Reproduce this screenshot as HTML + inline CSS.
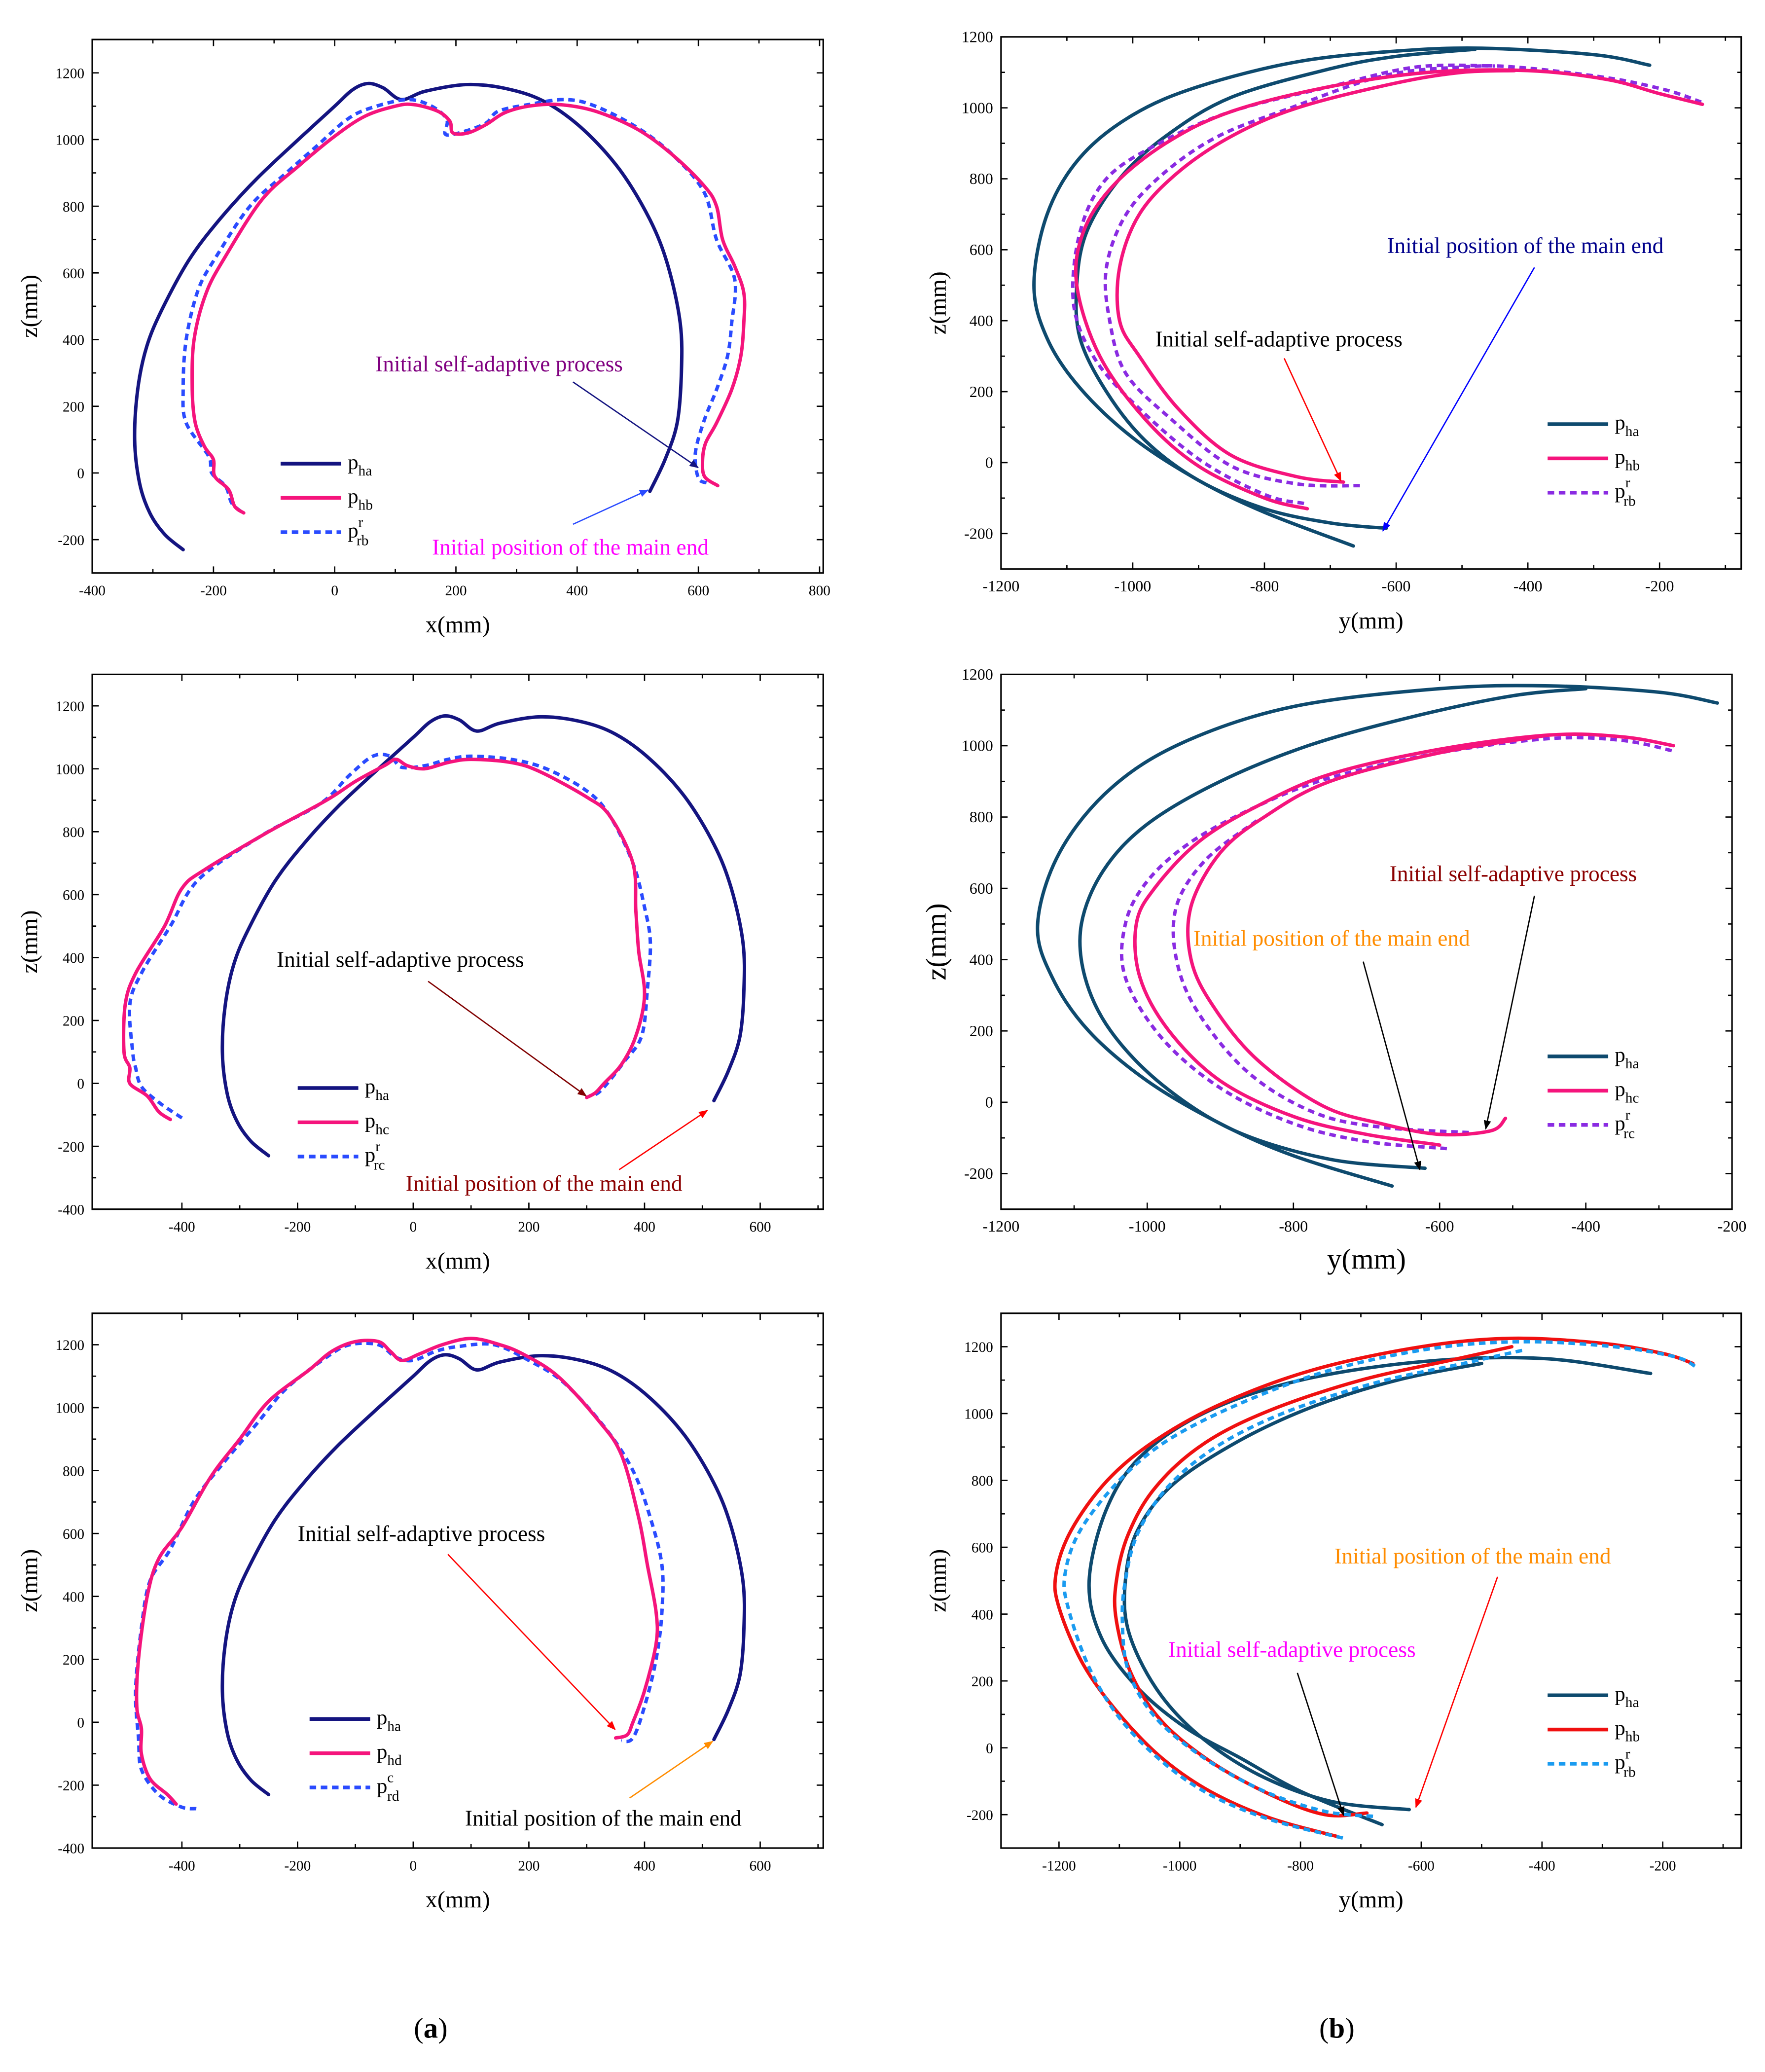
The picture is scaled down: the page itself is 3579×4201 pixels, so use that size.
<!DOCTYPE html>
<html><head><meta charset="utf-8"><style>
html,body{margin:0;padding:0;background:#fff;}
svg{display:block;font-family:"Liberation Serif",serif;}
</style></head><body>
<svg id="fig" xmlns="http://www.w3.org/2000/svg" width="3579" height="4201" viewBox="0 0 1340 1573"></svg>
<script>
// ---- data (data units) ----
const tl_pha=[[-250,-230],[-280,-185],[-305,-120],[-322,-30],[-330,100],[-325,250],[-310,380],[-285,490],[-240,640],[-190,760],[-130,880],[-60,1000],[0,1100],[30,1150],[55,1168],[80,1155],[110,1120],[150,1145],[220,1165],[290,1150],[350,1110],[410,1030],[470,910],[520,760],[550,620],[570,450],[572,300],[565,150],[545,40],[520,-55]];
const tl_phb=[[-150,-120],[-165,-100],[-175,-50],[-198,-10],[-200,40],[-215,80],[-230,150],[-235,250],[-232,400],[-212,540],[-180,650],[-120,820],[-60,920],[0,1010],[50,1070],[100,1100],[130,1105],[170,1085],[190,1055],[195,1020],[220,1020],[250,1045],[280,1080],[320,1100],[370,1105],[430,1085],[500,1030],[560,950],[610,860],[630,800],[640,700],[660,620],[675,540],[675,450],[670,350],[655,250],[630,150],[612,90],[607,40],[610,-10],[632,-38]];
const tl_prb=[[-155,-115],[-170,-90],[-180,-40],[-203,0],[-208,50],[-245,150],[-250,250],[-245,400],[-225,550],[-195,650],[-140,800],[-80,900],[-30,980],[20,1060],[60,1095],[120,1120],[160,1100],[185,1060],[183,1015],[215,1025],[250,1050],[270,1085],[320,1105],[380,1120],[430,1100],[500,1035],[560,950],[610,840],[630,700],[660,580],[655,450],[648,350],[630,250],[610,160],[595,60],[600,-15],[615,-30]];
const tr_pha_o=[[-215,1120],[-300,1150],[-470,1168],[-600,1160],[-750,1130],[-900,1060],[-1000,980],[-1080,860],[-1130,700],[-1150,500],[-1130,350],[-1080,210],[-1000,70],[-900,-50],[-800,-140],[-665,-235]];
const tr_pha_i=[[-615,-185],[-700,-170],[-800,-130],[-900,-50],[-980,60],[-1040,200],[-1080,350],[-1085,500],[-1070,650],[-1020,800],[-950,920],[-850,1030],[-700,1110],[-600,1145],[-480,1165]];
const tr_phb_o=[[-735,-130],[-800,-100],[-900,-10],[-980,120],[-1050,300],[-1085,500],[-1075,650],[-1030,780],[-950,900],[-850,990],[-700,1060],[-550,1100],[-400,1105],[-280,1080],[-200,1040],[-135,1010]];
const tr_phb_i=[[-680,-55],[-750,-40],[-850,20],[-930,150],[-990,300],[-1020,400],[-1020,550],[-990,700],[-930,820],[-850,920],[-750,1000],[-600,1070],[-500,1100],[-420,1105]];
const tr_prb_i=[[-655,-65],[-750,-60],[-850,-10],[-940,120],[-1010,250],[-1035,400],[-1040,550],[-1010,700],[-950,820],[-870,920],[-760,1000],[-620,1090],[-500,1115],[-420,1115],[-280,1085],[-190,1050],[-135,1015]];
const tr_prb_o=[[-740,-115],[-800,-90],[-900,10],[-1000,170],[-1060,300],[-1090,450],[-1080,650],[-1040,800],[-960,900],[-850,990],[-700,1060],[-570,1115],[-450,1118]];
const ml_phc=[[-420,-115],[-440,-90],[-460,-40],[-490,0],[-490,50],[-500,100],[-498,250],[-480,350],[-430,500],[-400,620],[-360,680],[-250,800],[-150,900],[-100,960],[-50,1010],[-30,1030],[-10,1010],[20,1000],[60,1020],[100,1030],[170,1020],[220,990],[300,910],[340,850],[380,700],[385,550],[390,420],[400,280],[385,150],[360,60],[330,0],[315,-30],[300,-45]];
const ml_prc=[[-400,-110],[-440,-60],[-470,-10],[-480,50],[-485,100],[-490,250],[-470,350],[-420,500],[-370,650],[-260,790],[-160,890],[-110,980],[-70,1040],[-40,1040],[-20,1005],[20,1010],[60,1030],[100,1040],[170,1030],[230,1000],[300,930],[340,850],[380,700],[400,560],[410,450],[405,300],[395,150],[365,70],[340,10],[320,-30],[305,-40]];
const mr_pha_o=[[-220,1120],[-300,1150],[-450,1168],[-600,1160],[-800,1110],[-950,1010],[-1050,880],[-1120,700],[-1150,500],[-1130,350],[-1080,200],[-1000,60],[-900,-60],[-800,-150],[-665,-235]];
const mr_pha_i=[[-620,-185],[-750,-160],[-880,-80],[-980,50],[-1050,200],[-1085,350],[-1090,500],[-1060,650],[-1000,780],[-900,900],[-780,1000],[-640,1080],[-500,1140],[-400,1160]];
const mr_phc_o=[[-600,-120],[-700,-90],[-800,-40],[-900,60],[-970,200],[-1010,350],[-1015,500],[-990,600],[-930,730],[-850,830],[-750,920],[-600,990],[-450,1030],[-350,1025],[-280,1000]];
const mr_phc_i=[[-510,-45],[-530,-80],[-600,-90],[-680,-60],[-760,-10],[-850,120],[-910,270],[-940,400],[-940,550],[-900,700],[-840,800],[-750,900],[-600,980],[-450,1030]];
const mr_prc_o=[[-590,-130],[-700,-110],[-800,-60],[-900,40],[-980,180],[-1030,350],[-1030,500],[-1000,620],[-940,730],[-850,830],[-750,910],[-600,980],[-450,1020],[-350,1015],[-280,985]];
const mr_prc_i=[[-560,-85],[-680,-70],[-770,-30],[-860,80],[-930,250],[-960,400],[-960,550],[-920,680],[-850,790]];
const bl_phd=[[-410,-260],[-425,-230],[-455,-180],[-470,-100],[-470,-20],[-478,50],[-475,200],[-460,400],[-440,520],[-400,620],[-350,780],[-300,900],[-250,1020],[-180,1120],[-140,1180],[-100,1210],[-60,1210],[-40,1180],[-20,1150],[10,1170],[50,1200],[100,1220],[150,1200],[190,1170],[250,1100],[320,960],[360,850],[390,650],[405,500],[420,350],[420,250],[400,100],[380,0],[370,-40],[350,-50]];
const bl_prd=[[-375,-275],[-400,-270],[-440,-230],[-470,-150],[-475,-50],[-480,100],[-470,300],[-455,450],[-420,550],[-380,700],[-330,820],[-270,950],[-220,1060],[-150,1160],[-110,1200],[-60,1200],[-30,1160],[0,1150],[40,1180],[80,1195],[140,1200],[200,1150],[260,1080],[330,940],[380,800],[410,650],[430,500],[430,350],[420,200],[400,50],[380,-50],[360,-60]];
const br_pha_o=[[-220,1120],[-400,1165],[-600,1155],[-800,1100],[-950,1010],[-1060,880],[-1120,720],[-1150,500],[-1130,330],[-1070,180],[-990,60],[-900,-30],[-800,-130],[-665,-230]];
const br_pha_i=[[-620,-185],[-750,-160],[-870,-80],[-970,40],[-1040,180],[-1085,350],[-1090,500],[-1070,650],[-1010,790],[-900,920],[-780,1020],[-640,1100],[-500,1150]];
const br_phb_a=[[-740,-265],[-850,-210],[-950,-130],[-1030,-30],[-1100,100],[-1160,250],[-1200,420],[-1205,520],[-1180,650],[-1120,800],[-1040,920],[-930,1030],[-780,1130],[-600,1200],[-450,1225],[-300,1210],[-200,1180],[-150,1150]];
const br_phb_b=[[-690,-195],[-760,-200],[-850,-140],[-950,-40],[-1030,80],[-1080,220],[-1105,380],[-1105,500],[-1085,640],[-1040,780],[-960,910],[-850,1010],[-700,1100],[-550,1160],[-450,1200]];
const br_prb_a=[[-730,-270],[-850,-215],[-950,-140],[-1030,-40],[-1100,90],[-1150,240],[-1185,420],[-1190,520],[-1165,650],[-1100,800],[-1020,920],[-900,1030],[-750,1130],[-580,1195],[-430,1215],[-280,1200],[-180,1170],[-145,1140]];
const br_prb_b=[[-680,-205],[-760,-190],[-860,-130],[-960,-30],[-1040,90],[-1085,230],[-1095,380],[-1090,500],[-1070,640],[-1020,780],[-940,900],[-830,1000],[-680,1090],[-530,1150],[-430,1190]];
const xTicksA=[-400,-200,0,200,400,600,800];
const xTicksB=[-400,-200,0,200,400,600];
const yTicks=[-1200,-1000,-800,-600,-400,-200];
const zTicksA=[-200,0,200,400,600,800,1000,1200];
const zTicksB=[-400,-200,0,200,400,600,800,1000,1200];

const NS="http://www.w3.org/2000/svg";
const svg=document.getElementById('fig');
function mk(tag,attrs,parent){const e=document.createElementNS(NS,tag);for(const k in attrs)e.setAttribute(k,attrs[k]);(parent||svg).appendChild(e);return e;}
const defs=mk('defs',{});
function marker(id,col){const m=mk('marker',{id:id,viewBox:'0 0 10 10',refX:'9',refY:'5',markerWidth:'7',markerHeight:'7',orient:'auto'},defs);mk('path',{d:'M0,1 L10,5 L0,9 Z',fill:col},m);}

function panel(name,P){
  const g=mk('g',{});
  
  
  const sx=v=>P.x0+(v-P.xmin)/(P.xmax-P.xmin)*(P.x1-P.x0);
  const sz=v=>P.y1-(v-P.zmin)/(P.zmax-P.zmin)*(P.y1-P.y0);
  P.sx=sx;P.sz=sz;P.g=g;
  const fr=mk('rect',{x:P.x0,y:P.y0,width:P.x1-P.x0,height:P.y1-P.y0,fill:'none',stroke:'#000','stroke-width':1.2},g);
  
  
  const step=P.xt[1]-P.xt[0];
  P.xt.forEach((t,i)=>{
    const x=sx(t);
    mk('line',{x1:x,y1:P.y1,x2:x,y2:P.y1-5,stroke:'#000','stroke-width':1},g);
    mk('line',{x1:x,y1:P.y0,x2:x,y2:P.y0+5,stroke:'#000','stroke-width':1},g);
    const mx=sx(t+step/2);
    if(mx<P.x1){mk('line',{x1:mx,y1:P.y1,x2:mx,y2:P.y1-3,stroke:'#000','stroke-width':1},g);mk('line',{x1:mx,y1:P.y0,x2:mx,y2:P.y0+3,stroke:'#000','stroke-width':1},g);}
    const tx=mk('text',{x:x,y:P.y1+17,'text-anchor':'middle','font-size':P.tf},g);tx.textContent=t;
    
    
  });
  const zs=P.zt[1]-P.zt[0];
  P.zt.forEach(t=>{
    const y=sz(t);
    mk('line',{x1:P.x0,y1:y,x2:P.x0+5,y2:y,stroke:'#000','stroke-width':1},g);
    mk('line',{x1:P.x1,y1:y,x2:P.x1-5,y2:y,stroke:'#000','stroke-width':1},g);
    const my=sz(t+zs/2);
    if(my>P.y0){mk('line',{x1:P.x0,y1:my,x2:P.x0+3,y2:my,stroke:'#000','stroke-width':1},g);mk('line',{x1:P.x1,y1:my,x2:P.x1-3,y2:my,stroke:'#000','stroke-width':1},g);}
    const tx=mk('text',{x:P.x0-6,y:y+4,'text-anchor':'end','font-size':P.tf},g);tx.textContent=t;
    
    
  });
  const xt=mk('text',{x:(P.x0+P.x1)/2,y:P.y1+45,'text-anchor':'middle','font-size':P.af},g);xt.textContent=P.xl;
  
  
  const zx=P.x0-42, zy=(P.y0+P.y1)/2;
  const zt=mk('text',{x:zx,y:zy,'text-anchor':'middle','font-size':P.af,transform:`rotate(-90 ${zx} ${zy})`},g);zt.textContent='z(mm)';
  
  
  return P;
}
function smoothPath(pts){
  let d='M'+pts[0][0].toFixed(1)+','+pts[0][1].toFixed(1);
  for(let i=0;i<pts.length-1;i++){
    const p0=pts[i-1]||pts[i],p1=pts[i],p2=pts[i+1],p3=pts[i+2]||p2;
    const c1=[p1[0]+(p2[0]-p0[0])/6,p1[1]+(p2[1]-p0[1])/6];
    const c2=[p2[0]-(p3[0]-p1[0])/6,p2[1]-(p3[1]-p1[1])/6];
    d+=` C${c1[0].toFixed(1)},${c1[1].toFixed(1)} ${c2[0].toFixed(1)},${c2[1].toFixed(1)} ${p2[0].toFixed(1)},${p2[1].toFixed(1)}`;
  }
  return d;
}
function series(P,data,col,dash,name){
  const pts=data.map(p=>[P.sx(p[0]),P.sz(p[1])]);
  const a={d:smoothPath(pts),fill:'none',stroke:col,'stroke-width':2.6,'stroke-linejoin':'round','stroke-linecap':'round'};
  if(dash){a['stroke-dasharray']='5,3.5';a['stroke-linecap']='butt';}
  const p=mk('path',a,P.g);
  
  
}
function legend(P,x,y,items){
  items.forEach((it,i)=>{
    const yy=y+i*26;
    const a={x1:x,y1:yy,x2:x+46,y2:yy,stroke:it.c,'stroke-width':2.8};
    if(it.d)a['stroke-dasharray']='5,3.5';
    const l=mk('line',a,P.g);
    
    
    const t=mk('text',{x:x+51,y:yy+4,'font-size':16},P.g);
    
    
    t.appendChild(document.createTextNode('p'));
    if(it.sup){
      const s1=mk('tspan',{'font-size':11,dy:-8},t);s1.textContent=it.sup;
      const s2=mk('tspan',{'font-size':11,dy:14,dx:-5},t);s2.textContent=it.sub;
    }else{
      const s=mk('tspan',{'font-size':11,dy:5},t);s.textContent=it.sub;
    }
  });
}
let ac=0;
function annot(P,txt,x,y,col,ax1,ay1,ax2,ay2,acol){
  const t=mk('text',{x:x,y:y,'font-size':17,fill:col},P.g);t.textContent=txt;
  
  
  const id='m'+(ac++);marker(id,acol);
  const l=mk('line',{x1:ax1,y1:ay1,x2:ax2,y2:ay2,stroke:acol,'stroke-width':1,'marker-end':`url(#${id})`},P.g);
  
  
}
const NAVY='#141480',TEAL='#0E4A6E',PINK='#F5147C',BLUE='#2A4BFF',VIO='#8A2BE2',RED='#F01010',LB='#1A9BF0';

// TL
let P=panel('panel-top-left',{x0:70,x1:625,xmin:-400,xmax:806,y0:30,y1:435,zmin:-300,zmax:1300,xt:xTicksA,zt:zTicksA,xl:'x(mm)',tf:11,af:18});
series(P,tl_pha,NAVY,false,'series-pha');series(P,tl_prb,BLUE,true,'series-prb');series(P,tl_phb,PINK,false,'series-phb');
legend(P,213,352,[{c:NAVY,sub:'ha'},{c:PINK,sub:'hb'},{c:BLUE,d:1,sup:'r',sub:'rb'}]);
annot(P,'Initial self-adaptive process',285,282,'#800080',435,290,530,355,'#141480');
annot(P,'Initial position of the main end',328,421,'#FF00FF',435,398,492,372,'#2A4BFF');
// TR
P=panel('panel-top-right',{x0:760,x1:1322,xmin:-1200,xmax:-76,y0:28,y1:432,zmin:-300,zmax:1200,xt:yTicks,zt:zTicksA,xl:'y(mm)',tf:12,af:18});
series(P,tr_pha_o,TEAL,false,'series-pha');series(P,tr_pha_i,TEAL,false,'series-pha');
series(P,tr_prb_o,VIO,true,'series-prb');series(P,tr_prb_i,VIO,true,'series-prb');
series(P,tr_phb_o,PINK,false,'series-phb');series(P,tr_phb_i,PINK,false,'series-phb');
legend(P,1175,322,[{c:TEAL,sub:'ha'},{c:PINK,sub:'hb'},{c:VIO,d:1,sup:'r',sub:'rb'}]);
annot(P,'Initial position of the main end',1053,192,'#00008B',1165,203,1050,403,'#0000FF');
annot(P,'Initial self-adaptive process',877,263,'#000',975,272,1018,365,'#FF0000');
// ML
P=panel('panel-middle-left',{x0:70,x1:625,xmin:-555,xmax:709,y0:512,y1:918,zmin:-400,zmax:1300,xt:xTicksB,zt:zTicksB,xl:'x(mm)',tf:11,af:18});
series(P,tl_pha,NAVY,false,'series-pha');series(P,ml_prc,BLUE,true,'series-prc');series(P,ml_phc,PINK,false,'series-phc');
legend(P,226,826,[{c:NAVY,sub:'ha'},{c:PINK,sub:'hc'},{c:BLUE,d:1,sup:'r',sub:'rc'}]);
annot(P,'Initial self-adaptive process',210,734,'#000',325,745,445,832,'#800000');
annot(P,'Initial position of the main end',308,904,'#8B0000',470,888,537,843,'#FF0000');
// MR
P=panel('panel-middle-right',{x0:760,x1:1315,xmin:-1200,xmax:-200,y0:512,y1:918,zmin:-300,zmax:1200,xt:yTicks,zt:zTicksA,xl:'y(mm)',tf:12,af:22});
series(P,mr_pha_o,TEAL,false,'series-pha');series(P,mr_pha_i,TEAL,false,'series-pha');
series(P,mr_prc_o,VIO,true,'series-prc');series(P,mr_prc_i,VIO,true,'series-prc');
series(P,mr_phc_o,PINK,false,'series-phc');series(P,mr_phc_i,PINK,false,'series-phc');
legend(P,1175,802,[{c:TEAL,sub:'ha'},{c:PINK,sub:'hc'},{c:VIO,d:1,sup:'r',sub:'rc'}]);
annot(P,'Initial self-adaptive process',1055,669,'#8B0000',1165,680,1128,857,'#000');
annot(P,'Initial position of the main end',906,718,'#FF8C00',1035,730,1078,888,'#000');
// BL
P=panel('panel-bottom-left',{x0:70,x1:625,xmin:-555,xmax:709,y0:997,y1:1403,zmin:-400,zmax:1300,xt:xTicksB,zt:zTicksB,xl:'x(mm)',tf:11,af:18});
series(P,tl_pha,NAVY,false,'series-pha');series(P,bl_prd,BLUE,true,'series-prd');series(P,bl_phd,PINK,false,'series-phd');
legend(P,235,1305,[{c:NAVY,sub:'ha'},{c:PINK,sub:'hd'},{c:BLUE,d:1,sup:'c',sub:'rd'}]);
annot(P,'Initial self-adaptive process',226,1170,'#000',340,1180,467,1313,'#FF0000');
annot(P,'Initial position of the main end',353,1386,'#000',478,1365,541,1322,'#FF8C00');
// BR
P=panel('panel-bottom-right',{x0:760,x1:1322,xmin:-1296,xmax:-70,y0:997,y1:1403,zmin:-300,zmax:1300,xt:yTicks,zt:zTicksA,xl:'y(mm)',tf:11,af:18});
series(P,br_pha_o,TEAL,false,'series-pha');series(P,br_pha_i,TEAL,false,'series-pha');
series(P,br_phb_a,RED,false,'series-phb');series(P,br_phb_b,RED,false,'series-phb');
series(P,br_prb_a,LB,true,'series-prb');series(P,br_prb_b,LB,true,'series-prb');
legend(P,1175,1287,[{c:TEAL,sub:'ha'},{c:RED,sub:'hb'},{c:LB,d:1,sup:'r',sub:'rb'}]);
annot(P,'Initial position of the main end',1013,1187,'#FF8C00',1137,1197,1075,1372,'#FF0000');
annot(P,'Initial self-adaptive process',887,1258,'#FF00FF',985,1270,1020,1378,'#000');
// captions
const ca=mk('text',{x:327,y:1547,'text-anchor':'middle','font-size':22});ca.innerHTML='(<tspan font-weight="bold">a</tspan>)';


const cb=mk('text',{x:1015,y:1547,'text-anchor':'middle','font-size':22});cb.innerHTML='(<tspan font-weight="bold">b</tspan>)';


</script>
</body></html>
